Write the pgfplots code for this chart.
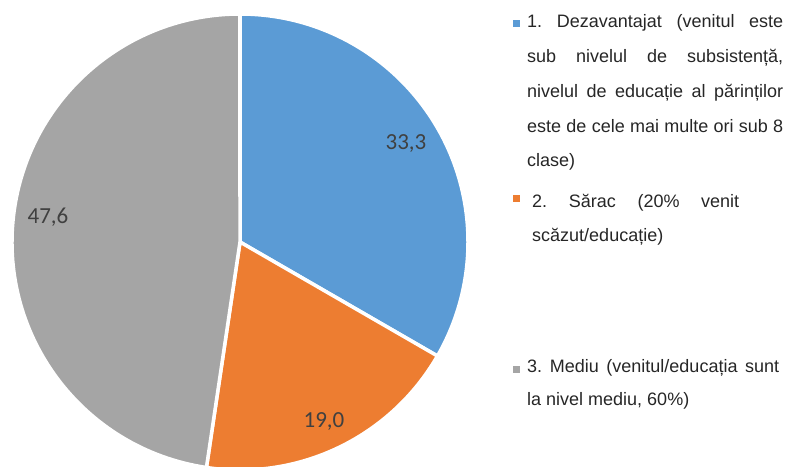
\documentclass[border=0pt]{standalone}
\usepackage{pgfplots}
\pgfplotsset{compat=1.18}
\usepackage{pgfplotstable}
\usepackage{fontspec}
\setmainfont{Liberation Sans}
\newfontfamily\carlito{Carlito}
\definecolor{cA}{HTML}{5B9BD5}
\definecolor{cB}{HTML}{ED7D31}
\definecolor{cC}{HTML}{A5A5A5}
\definecolor{lab}{HTML}{404040}
\definecolor{legtxt}{HTML}{262626}
\pgfplotstableread{
id value
1 33.3
2 19.0
3 47.6
}\piedata
\frenchspacing
\begin{document}
\begin{tikzpicture}
\pgfplotstablegetelem{0}{value}\of\piedata \let\va\pgfplotsretval
\pgfplotstablegetelem{1}{value}\of\piedata \let\vb\pgfplotsretval
\pgfplotstablegetelem{2}{value}\of\piedata \let\vc\pgfplotsretval
\pgfmathsetmacro\sumv{\va+\vb+\vc}
\pgfmathsetmacro\aA{90}
\pgfmathsetmacro\aB{90-360*(\va/\sumv)}
\pgfmathsetmacro\aC{\aB-360*(\vb/\sumv)}
\pgfmathsetmacro\aD{\aC-360*(\vc/\sumv)}
\def\R{228pt}
\pgfkeys{/pgf/number format/.cd,fixed,fixed zerofill,precision=1,use comma,assume math mode=true}
\begin{axis}[x=1pt,y=1pt,xmin=0,xmax=786,ymin=0,ymax=466,hide axis,clip=true]
\addplot[draw=none] coordinates {(0,0) (786,466)};
\fill[cA,draw=white,line width=3.5pt,line join=round] (axis cs:240,224) -- ++(\aA:\R) arc[start angle=\aA,end angle=\aB,radius=\R] -- cycle;
\fill[cB,draw=white,line width=3.5pt,line join=round] (axis cs:240,224) -- ++(\aB:\R) arc[start angle=\aB,end angle=\aC,radius=\R] -- cycle;
\fill[cC,draw=white,line width=3.5pt,line join=round] (axis cs:240,224) -- ++(\aC:\R) arc[start angle=\aC,end angle=\aD,radius=\R] -- cycle;
\node[text=lab,font=\carlito\fontsize{23}{26}\selectfont,inner sep=0] at (axis cs:406,322) {\pgfmathprintnumber{\va}};
\node[text=lab,font=\carlito\fontsize{23}{26}\selectfont,inner sep=0] at (axis cs:324,44) {\pgfmathprintnumber{\vb}};
\node[text=lab,font=\carlito\fontsize{23}{26}\selectfont,inner sep=0] at (axis cs:48,249) {\pgfmathprintnumber{\vc}};
% legend
\fill[cA] (axis cs:512.5,438.5) rectangle (axis cs:519.5,445.5);
\fill[cB] (axis cs:512.5,263.5) rectangle (axis cs:519.5,270.5);
\fill[cC] (axis cs:512.5,93.5) rectangle (axis cs:519.5,100.5);
\node[anchor=base west,inner sep=0,text=legtxt] at (axis cs:527,438) {\parbox[t]{256pt}{\fontsize{18}{34.7}\selectfont\hyphenpenalty=10000 1. Dezavantajat (venitul este\linebreak sub nivelul de subsistență,\linebreak nivelul de educație al părinților\linebreak este de cele mai multe ori sub 8\linebreak clase)}};
\node[anchor=base west,inner sep=0,text=legtxt] at (axis cs:532,258) {\parbox[t]{207pt}{\fontsize{18}{34}\selectfont\hyphenpenalty=10000 2. Sărac (20\% venit\linebreak scăzut/educație)}};
\node[anchor=base west,inner sep=0,text=legtxt] at (axis cs:527,94) {\parbox[t]{252pt}{\fontsize{18}{33}\selectfont\hyphenpenalty=10000 3. Mediu (venitul/educația sunt\linebreak la nivel mediu, 60\%)}};
\end{axis}
\end{tikzpicture}
\end{document}
